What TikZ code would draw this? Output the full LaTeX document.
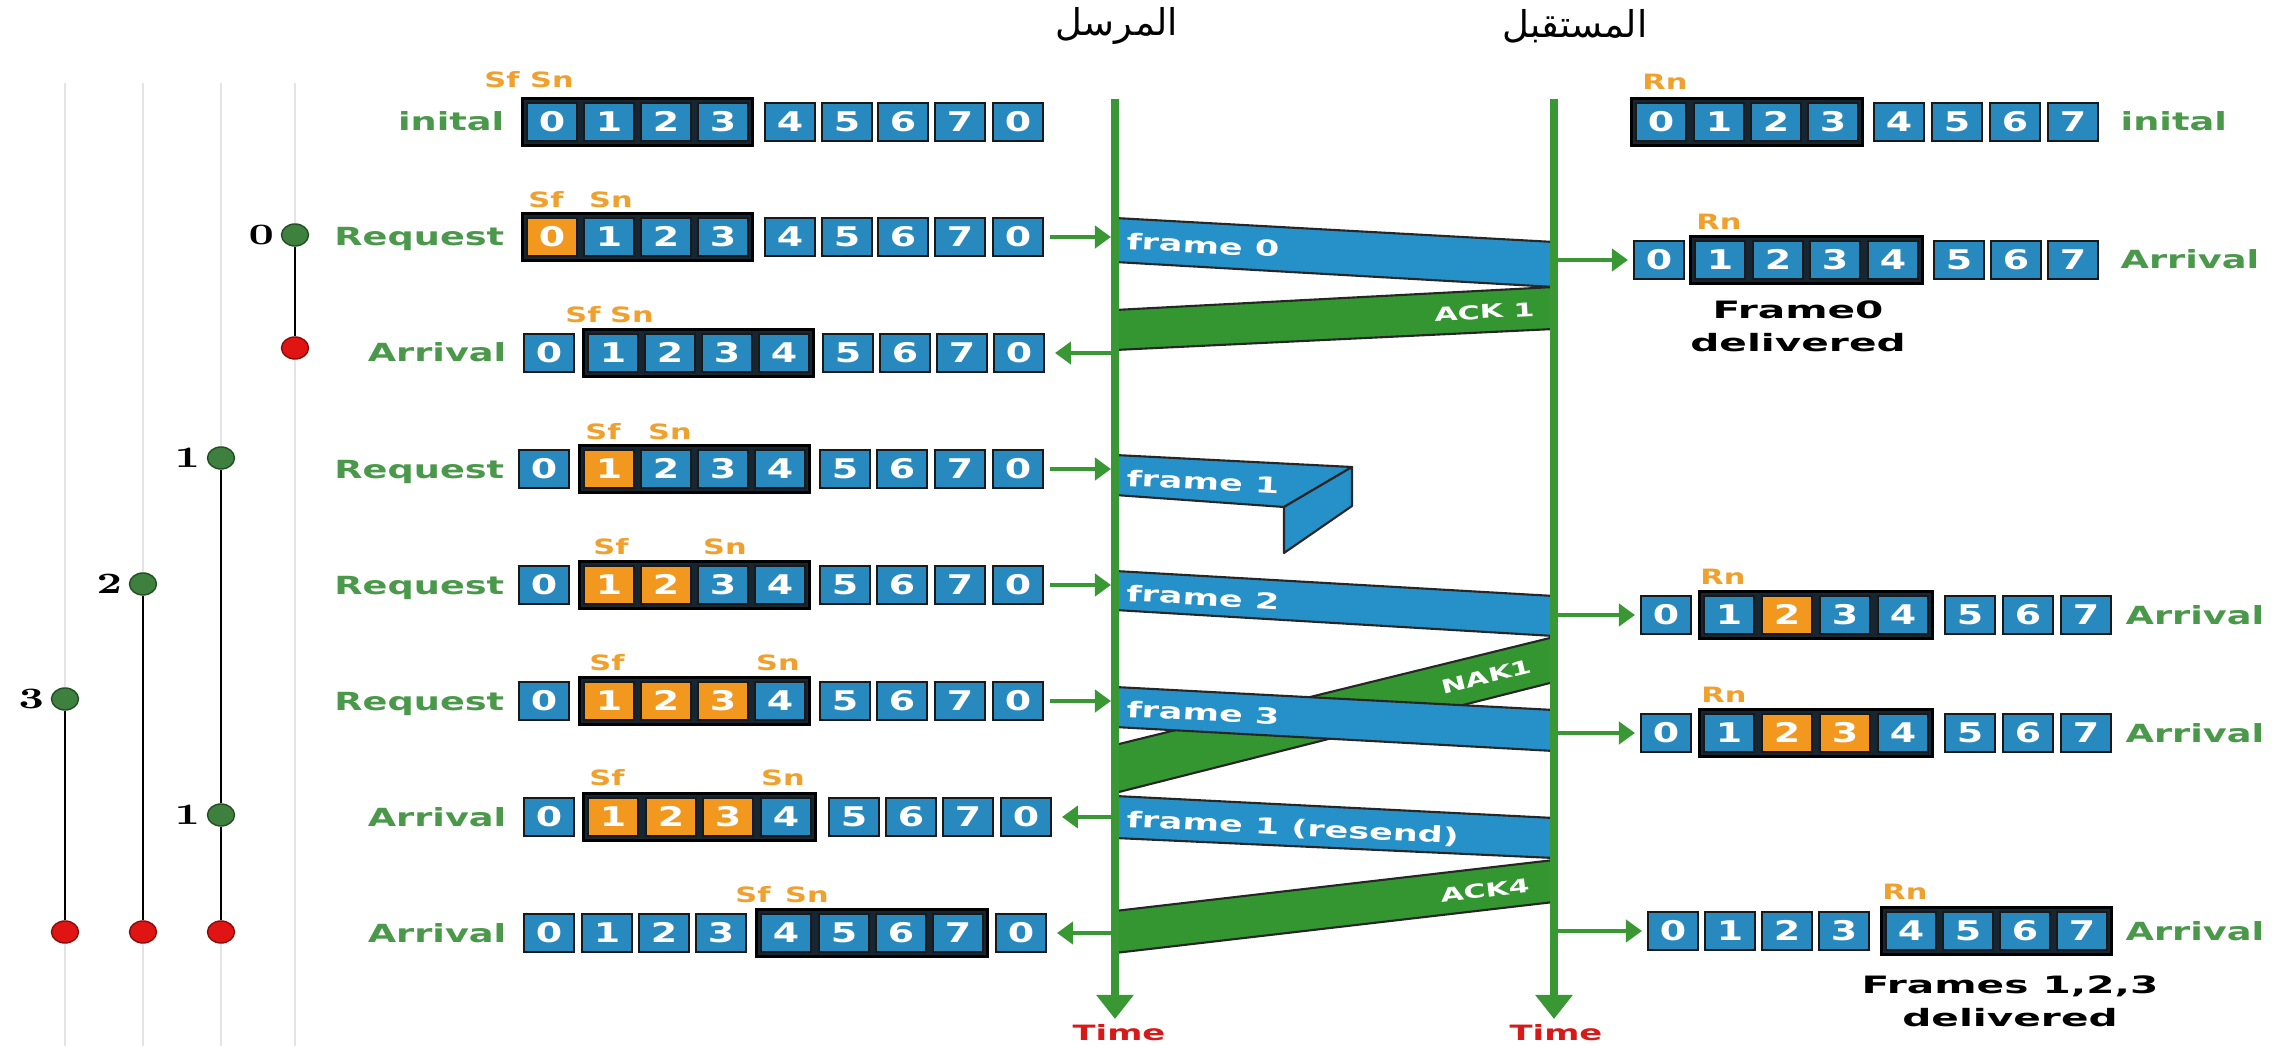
\documentclass[tikz,border=0pt]{standalone}
\usepackage{fontspec}
\newfontfamily\vfont{DejaVu Sans}
\newfontfamily\arabicfont[Script=Arabic]{DejaVu Sans}
\TeXXeTstate=1
\usetikzlibrary{arrows.meta,fit,backgrounds,shapes.geometric}

\definecolor{cellblue}{RGB}{40,137,190}
\definecolor{cellorange}{RGB}{242,152,30}
\definecolor{winfill}{RGB}{22,38,50}
\definecolor{lblgreen}{RGB}{74,152,74}
\definecolor{ptrorange}{RGB}{240,160,45}
\definecolor{lifegreen}{RGB}{58,152,52}
\definecolor{bandblue}{RGB}{38,145,200}
\definecolor{bandgreen}{RGB}{52,150,48}
\definecolor{timered}{RGB}{215,25,25}
\definecolor{dotgreen}{RGB}{62,128,62}
\definecolor{dotred}{RGB}{225,20,20}
\definecolor{guide}{RGB}{228,228,228}

% horizontally widened text
\newcommand\wide[2][1.47]{\scalebox{#1}[1]{#2}}
% one row of sequence-number cells: name prefix, y, list of x/digit/style
\newcommand\cellrow[3]{%
  \foreach \cX/\cD/\cS [count=\cI from 0] in {#3}
    {\node[cell,\cS] (#1-\cI) at (\cX,#2) {\wide[1.4]{\cD}};}}

\tikzset{
  cell/.style={draw=black!90, line width=0.55pt, fill=cellblue, anchor=west,
    minimum width=0.5cm, minimum height=0.38cm, inner sep=0pt, text=white,
    text height=0.195cm, text depth=0cm,
    font=\vfont\bfseries\fontsize{7.7pt}{8pt}\selectfont},
  cb/.style={},
  co/.style={fill=cellorange},
  win/.style={draw=black, line width=0.9pt, fill=winfill, inner sep=0.035cm},
  rowlbl/.style={text=lblgreen, inner sep=0pt, text height=0.18cm, text depth=0cm,
    font=\vfont\bfseries\fontsize{7.1pt}{8pt}\selectfont},
  ptr/.style={text=ptrorange, inner sep=0pt, text height=0.15cm, text depth=0cm,
    font=\vfont\bfseries\fontsize{6pt}{7pt}\selectfont},
  dlv/.style={align=center, inner sep=0pt,
    font=\vfont\bfseries\fontsize{6.8pt}{9.4pt}\selectfont},
  frametxt/.style={text=white, inner sep=0pt, text height=0.16cm, text depth=0cm,
    font=\vfont\bfseries\fontsize{6.3pt}{7pt}\selectfont},
  acktxt/.style={text=white, inner sep=0pt, text height=0.14cm, text depth=0cm,
    font=\vfont\bfseries\fontsize{5.4pt}{6pt}\selectfont},
  timelbl/.style={text=timered, inner sep=0pt, text height=0.15cm, text depth=0cm,
    font=\vfont\bfseries\fontsize{6pt}{7pt}\selectfont},
  role/.style={inner sep=0pt, font=\arabicfont\fontsize{10.5pt}{12pt}\selectfont},
  life/.style={draw=lifegreen, line width=2pt, -{Triangle[length=0.24cm,width=0.36cm]}},
  rowarr/.style={draw=lifegreen, line width=1.4pt, -{Triangle[length=0.16cm,width=0.22cm]}},
  bandb/.style={fill=bandblue, draw=black!85, line width=0.6pt, line join=round},
  bandg/.style={fill=bandgreen, draw=black!85, line width=0.6pt, line join=round},
  guideline/.style={draw=guide, line width=0.7pt},
  spanline/.style={draw=black, line width=0.85pt},
  gdot/.style={ellipse, draw=dotgreen!60!black, fill=dotgreen, line width=0.4pt,
    minimum width=0.27cm, minimum height=0.22cm, inner sep=0pt},
  rdot/.style={gdot, draw=dotred!60!black, fill=dotred},
  dotnum/.style={inner sep=0pt, anchor=east, text height=0.19cm, text depth=0cm,
    font=\rmfamily\bfseries\fontsize{8.4pt}{9pt}\selectfont},
}

\begin{document}
\begin{tikzpicture}[x=0.01cm, y=-0.01cm]
\useasboundingbox (0,0) rectangle (2277,1046);
\begin{scope}[on background layer]
  \fill[white] (0,0) rectangle (2277,1046);
\end{scope}

% faint guide lines on the left
\foreach \gx in {65,143,221,295} \draw[guideline] (\gx,83) -- (\gx,1046);

% lifeline ends
\coordinate (sTop) at (1115,99);  \coordinate (sBot) at (1115,1019);
\coordinate (rTop) at (1554,99);  \coordinate (rBot) at (1554,1019);

% frames and acknowledgements in flight
\filldraw[bandb] (1115,218) -- (1554,242) -- (1554,287) -- (1115,262) -- cycle;
\filldraw[bandg] (1554,287) -- (1554,329) -- (1115,350) -- (1115,310) -- cycle;
\filldraw[bandb] (1115,455) -- (1352,467) -- (1284,507) -- (1115,495) -- cycle;
\filldraw[bandb] (1352,467) -- (1352,506) -- (1284,553) -- (1284,507) -- cycle;
\filldraw[bandb] (1115,571) -- (1554,596) -- (1554,636) -- (1115,610) -- cycle;
\filldraw[bandg] (1554,637) -- (1554,682) -- (1115,793) -- (1115,745) -- cycle;
\filldraw[bandb] (1115,687) -- (1554,710) -- (1554,751) -- (1115,727) -- cycle;
\filldraw[bandb] (1115,796) -- (1554,818) -- (1554,858) -- (1115,838) -- cycle;
\filldraw[bandg] (1554,860) -- (1554,902) -- (1115,953) -- (1115,911) -- cycle;

% lifelines
\draw[life] (sTop) -- (sBot);
\draw[life] (rTop) -- (rBot);

% labels on the bands
\node[frametxt, anchor=west, rotate=-3.1] (tf0) at (1126,241) {\wide[1.58]{frame 0}};
\node[acktxt, anchor=east, rotate=3] (ta1) at (1535,309) {\wide[1.58]{ACK 1}};
\node[frametxt, anchor=west, rotate=-3] (tf1) at (1126,478) {\wide[1.58]{frame 1}};
\node[frametxt, anchor=west, rotate=-3.3] (tf2) at (1126,593) {\wide[1.58]{frame 2}};
\node[acktxt, anchor=east, rotate=14] (tn1) at (1532,665) {\wide[1.58]{NAK1}};
\node[frametxt, anchor=west, rotate=-3] (tf3) at (1126,709) {\wide[1.58]{frame 3}};
\node[frametxt, anchor=west, rotate=-2.9] (tfr) at (1126,819) {\wide[1.58]{frame 1 (resend)}};
\node[acktxt, anchor=east, rotate=6.6] (ta4) at (1530,885) {\wide[1.58]{ACK4}};

% headings and time labels
\node[role] (sndr) at (1117,26) {\beginR المرسل\endR};
\node[role] (rcvr) at (1575,26) {\beginR المستقبل\endR};
\node[timelbl] (ts) at (1119,1033) {\wide[1.6]{Time}};
\node[timelbl] (tr) at (1556,1033) {\wide[1.6]{Time}};

% sender windows
\cellrow{L1}{122}{526/0/cb,583/1/cb,640/2/cb,697/3/cb,764/4/cb,821/5/cb,877/6/cb,934/7/cb,992/0/cb}
\cellrow{L2}{237}{526/0/co,583/1/cb,640/2/cb,697/3/cb,764/4/cb,821/5/cb,877/6/cb,934/7/cb,992/0/cb}
\cellrow{L3}{353}{523/0/cb,587/1/cb,644/2/cb,701/3/cb,758/4/cb,822/5/cb,879/6/cb,936/7/cb,993/0/cb}
\cellrow{L4}{469}{518/0/cb,583/1/co,640/2/cb,697/3/cb,754/4/cb,819/5/cb,876/6/cb,934/7/cb,992/0/cb}
\cellrow{L5}{585}{518/0/cb,583/1/co,640/2/co,697/3/cb,754/4/cb,819/5/cb,876/6/cb,934/7/cb,992/0/cb}
\cellrow{L6}{701}{518/0/cb,583/1/co,640/2/co,697/3/co,754/4/cb,819/5/cb,876/6/cb,934/7/cb,992/0/cb}
\cellrow{L7}{817}{523/0/cb,587/1/co,645/2/co,702/3/co,760/4/cb,828/5/cb,885/6/cb,942/7/cb,1000/0/cb}
\cellrow{L8}{933}{523/0/cb,581/1/cb,638/2/cb,695/3/cb,760/4/cb,818/5/cb,875/6/cb,932/7/cb,995/0/cb}

% receiver windows
\cellrow{R1}{122}{1635/0/cb,1693/1/cb,1750/2/cb,1807/3/cb,1873/4/cb,1931/5/cb,1989/6/cb,2047/7/cb}
\cellrow{R2}{260}{1633/0/cb,1694/1/cb,1752/2/cb,1809/3/cb,1867/4/cb,1933/5/cb,1990/6/cb,2047/7/cb}
\cellrow{R5}{615}{1640/0/cb,1703/1/cb,1761/2/co,1819/3/cb,1877/4/cb,1944/5/cb,2002/6/cb,2060/7/cb}
\cellrow{R6}{733}{1640/0/cb,1703/1/cb,1761/2/co,1819/3/co,1877/4/cb,1944/5/cb,2002/6/cb,2060/7/cb}
\cellrow{R8}{931}{1647/0/cb,1704/1/cb,1761/2/cb,1818/3/cb,1885/4/cb,1942/5/cb,1999/6/cb,2056/7/cb}

% window outlines behind the cells
\begin{scope}[on background layer]
  \foreach \rw/\wa/\wb in {L1/0/3,L2/0/3,L3/1/4,L4/1/4,L5/1/4,L6/1/4,L7/1/4,L8/4/7,
                           R1/0/3,R2/1/4,R5/1/4,R6/1/4,R8/4/7}
    \node[win, fit=(\rw-\wa)(\rw-\wb)] (\rw-win) {};
\end{scope}

% row captions
\node[rowlbl, anchor=east] (L1l) at (505,122) {\wide{inital}};
\node[rowlbl, anchor=east] (L2l) at (505,237) {\wide{Request}};
\node[rowlbl, anchor=east] (L3l) at (507,353) {\wide{Arrival}};
\node[rowlbl, anchor=east] (L4l) at (505,469) {\wide{Request}};
\node[rowlbl, anchor=east] (L5l) at (505,585) {\wide{Request}};
\node[rowlbl, anchor=east] (L6l) at (505,701) {\wide{Request}};
\node[rowlbl, anchor=east] (L7l) at (507,817) {\wide{Arrival}};
\node[rowlbl, anchor=east] (L8l) at (507,933) {\wide{Arrival}};
\node[rowlbl, anchor=west] (R1l) at (2120,122) {\wide{inital}};
\node[rowlbl, anchor=west] (R2l) at (2120,260) {\wide{Arrival}};
\node[rowlbl, anchor=west] (R5l) at (2125,615) {\wide{Arrival}};
\node[rowlbl, anchor=west] (R6l) at (2125,733) {\wide{Arrival}};
\node[rowlbl, anchor=west] (R8l) at (2125,931) {\wide{Arrival}};

% window pointers
\node[ptr] (p1f) at (502,80) {\wide[1.44]{Sf}};
\node[ptr] (p1n) at (552,80) {\wide[1.44]{Sn}};
\node[ptr] (p2f) at (546,200) {\wide[1.44]{Sf}};
\node[ptr] (p2n) at (611,200) {\wide[1.44]{Sn}};
\node[ptr] (p3f) at (583,315) {\wide[1.44]{Sf}};
\node[ptr] (p3n) at (632,315) {\wide[1.44]{Sn}};
\node[ptr] (p4f) at (603,432) {\wide[1.44]{Sf}};
\node[ptr] (p4n) at (670,432) {\wide[1.44]{Sn}};
\node[ptr] (p5f) at (611,547) {\wide[1.44]{Sf}};
\node[ptr] (p5n) at (725,547) {\wide[1.44]{Sn}};
\node[ptr] (p6f) at (607,663) {\wide[1.44]{Sf}};
\node[ptr] (p6n) at (778,663) {\wide[1.44]{Sn}};
\node[ptr] (p7f) at (607,778) {\wide[1.44]{Sf}};
\node[ptr] (p7n) at (783,778) {\wide[1.44]{Sn}};
\node[ptr] (p8f) at (753,895) {\wide[1.44]{Sf}};
\node[ptr] (p8n) at (807,895) {\wide[1.44]{Sn}};
\node[ptr] (q1) at (1665,82) {\wide[1.44]{Rn}};
\node[ptr] (q2) at (1719,222) {\wide[1.44]{Rn}};
\node[ptr] (q5) at (1723,577) {\wide[1.44]{Rn}};
\node[ptr] (q6) at (1724,695) {\wide[1.44]{Rn}};
\node[ptr] (q8) at (1905,892) {\wide[1.44]{Rn}};

% delivery notes
\node[dlv] (dl0) at (1798,326) {\wide[1.7]{Frame0}\\\wide[1.7]{delivered}};
\node[dlv] (dl1) at (2010,1001) {\wide[1.7]{Frames 1,2,3}\\\wide[1.7]{delivered}};

% short arrows between windows and lifelines
\foreach \rw in {L2,L4,L5,L6}
  \draw[rowarr, shorten <=0.06cm, shorten >=0.04cm] (\rw-8.east) -- (\rw-8.east -| sTop);
\foreach \rw in {L3,L7,L8}
  \draw[rowarr, shorten <=0.04cm, shorten >=0.1cm] (\rw-8.east -| sTop) -- (\rw-8.east);
\foreach \rw in {R2,R5,R6,R8}
  \draw[rowarr, shorten <=0.04cm, shorten >=0.05cm] (\rw-0.west -| rTop) -- (\rw-0.west);

% timers on the left
\node[gdot] (d0) at (295,235) {};
\node[rdot] (e0) at (295,348) {};
\node[gdot] (d1) at (221,458) {};
\node[gdot] (d1r) at (221,815) {};
\node[rdot] (e1) at (221,932) {};
\node[gdot] (d2) at (143,584) {};
\node[rdot] (e2) at (143,932) {};
\node[gdot] (d3) at (65,699) {};
\node[rdot] (e3) at (65,932) {};
\draw[spanline] (d0.south) -- (e0.north);
\draw[spanline] (d1.south) -- (d1r.north);
\draw[spanline] (d1r.south) -- (e1.north);
\draw[spanline] (d2.south) -- (e2.north);
\draw[spanline] (d3.south) -- (e3.north);
\node[dotnum] (n0) at ([xshift=-0.06cm]d0.west) {\wide[1.4]{0}};
\node[dotnum] (n1) at ([xshift=-0.06cm]d1.west) {\wide[1.4]{1}};
\node[dotnum] (n1r) at ([xshift=-0.06cm]d1r.west) {\wide[1.4]{1}};
\node[dotnum] (n2) at ([xshift=-0.06cm]d2.west) {\wide[1.4]{2}};
\node[dotnum] (n3) at ([xshift=-0.06cm]d3.west) {\wide[1.4]{3}};
\end{tikzpicture}
\end{document}
